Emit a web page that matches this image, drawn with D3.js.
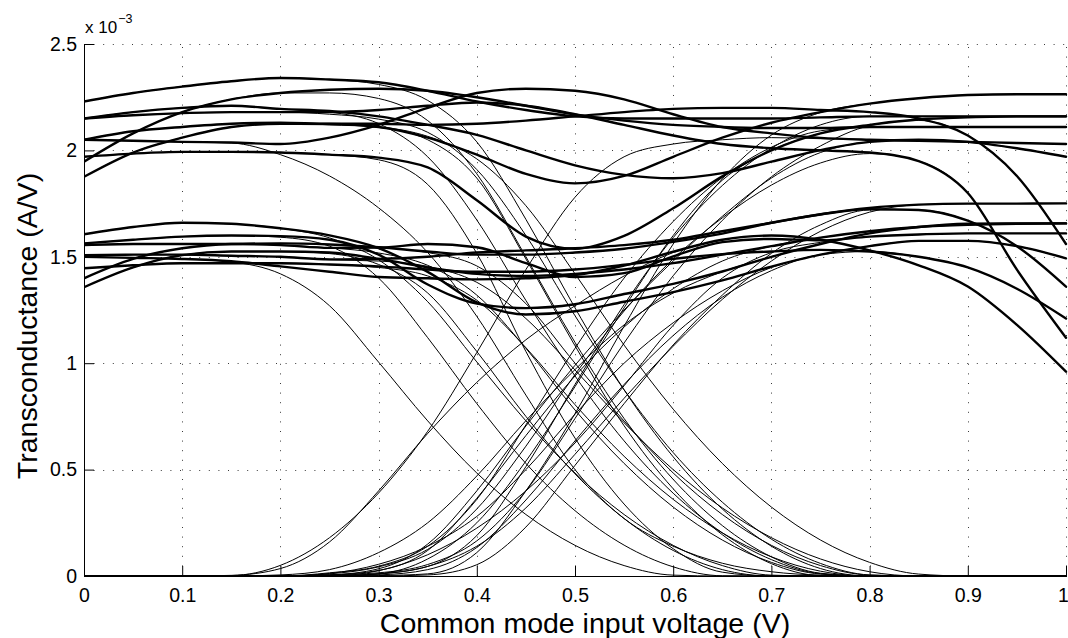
<!DOCTYPE html>
<html>
<head>
<meta charset="utf-8">
<script src="https://cdn.jsdelivr.net/npm/d3@7"></script>
<style>
  html, body { margin: 0; padding: 0; background: #ffffff; }
  svg { display: block; font-family: "Liberation Sans", Arial, Helvetica, sans-serif; }
</style>
</head>
<body>
<svg id="chart" width="1068" height="638"></svg>
<script>
// Common-mode input voltage sweep (V)
const vcm = [0, 0.05, 0.1, 0.15, 0.2, 0.25, 0.3, 0.35, 0.4, 0.45, 0.5,
             0.55, 0.6, 0.65, 0.7, 0.75, 0.8, 0.85, 0.9, 0.95, 1];

// Transconductance of the pair that turns off as Vcm rises (units of 1e-3 A/V), one row per run
const gmFalling = [
  [2.23, 2.27, 2.30, 2.325, 2.34, 2.333, 2.31, 2.235, 2.04, 1.676, 1.26, 0.875, 0.56, 0.315, 0.14, 0.035, 0, 0, 0, 0, 0],
  [1.947, 2.08, 2.18, 2.24, 2.27, 2.27, 2.244, 2.14, 1.89, 1.50, 1.098, 0.74, 0.454, 0.237, 0.09, 0.013, 0, 0, 0, 0, 0],
  [2.15, 2.18, 2.20, 2.21, 2.195, 2.18, 2.126, 1.97, 1.673, 1.295, 0.94, 0.635, 0.389, 0.203, 0.077, 0.011, 0, 0, 0, 0, 0],
  [2.15, 2.165, 2.175, 2.18, 2.18, 2.17, 2.147, 2.085, 1.91, 1.60, 1.223, 0.875, 0.58, 0.347, 0.173, 0.059, 0.005, 0, 0, 0, 0],
  [2.05, 2.09, 2.11, 2.125, 2.13, 2.12, 2.11, 2.066, 1.96, 1.74, 1.42, 1.085, 0.784, 0.529, 0.324, 0.169, 0.064, 0.009, 0, 0, 0],
  [2.05, 2.045, 2.04, 2.035, 1.98, 1.88, 1.73, 1.52, 1.22, 0.85, 0.50, 0.27, 0.14, 0.06, 0.02, 0.004, 0, 0, 0, 0, 0],
  [1.97, 1.985, 1.993, 1.993, 1.99, 1.98, 1.956, 1.84, 1.516, 1.055, 0.648, 0.338, 0.128, 0.018, 0, 0, 0, 0, 0, 0, 0],
  [1.876, 1.99, 2.06, 2.11, 2.125, 2.124, 2.108, 2.05, 1.87, 1.49, 1.082, 0.706, 0.41, 0.194, 0.058, 0.002, 0, 0, 0, 0, 0],
  [1.606, 1.64, 1.66, 1.655, 1.634, 1.589, 1.486, 1.289, 1.006, 0.729, 0.484, 0.289, 0.144, 0.049, 0.004, 0, 0, 0, 0, 0, 0],
  [1.563, 1.58, 1.595, 1.60, 1.592, 1.55, 1.40, 1.12, 0.81, 0.529, 0.307, 0.145, 0.043, 0.001, 0, 0, 0, 0, 0, 0, 0],
  [1.555, 1.56, 1.56, 1.56, 1.555, 1.542, 1.518, 1.46, 1.32, 1.07, 0.78, 0.529, 0.324, 0.169, 0.064, 0.009, 0, 0, 0, 0, 0],
  [1.508, 1.51, 1.51, 1.505, 1.50, 1.486, 1.48, 1.455, 1.38, 1.21, 0.968, 0.72, 0.5, 0.32, 0.18, 0.08, 0.02, 0, 0, 0, 0],
  [1.50, 1.495, 1.49, 1.476, 1.42, 1.27, 1.005, 0.729, 0.484, 0.289, 0.144, 0.049, 0.004, 0, 0, 0, 0, 0, 0, 0, 0],
  [1.446, 1.46, 1.47, 1.47, 1.47, 1.464, 1.45, 1.41, 1.296, 1.073, 0.805, 0.5625, 0.36, 0.2025, 0.09, 0.0225, 0, 0, 0, 0, 0],
  [1.399, 1.49, 1.54, 1.56, 1.563, 1.558, 1.545, 1.52, 1.457, 1.28, 1.0, 0.728, 0.484, 0.289, 0.144, 0.049, 0.004, 0, 0, 0, 0],
  [1.357, 1.45, 1.508, 1.525, 1.525, 1.515, 1.464, 1.33, 1.055, 0.75, 0.48, 0.27, 0.12, 0.03, 0, 0, 0, 0, 0, 0, 0]
];

// Transconductance of the complementary pair that turns on as Vcm rises (units of 1e-3 A/V)
const gmRising = [
  [0, 0, 0, 0, 0, 0, 0.01, 0.045, 0.19, 0.514, 0.90, 1.275, 1.59, 1.835, 2.01, 2.12, 2.16, 2.16, 2.16, 2.16, 2.16],
  [0, 0, 0, 0, 0, 0.015, 0.046, 0.14, 0.36, 0.71, 1.07, 1.40, 1.666, 1.873, 2.015, 2.092, 2.11, 2.11, 2.11, 2.11, 2.11],
  [0, 0, 0, 0, 0, 0.005, 0.034, 0.15, 0.40, 0.705, 0.99, 1.25, 1.48, 1.69, 1.87, 1.99, 2.04, 2.05, 2.04, 2.01, 1.97],
  [0, 0, 0, 0, 0, 0.01, 0.043, 0.125, 0.315, 0.61, 0.947, 1.245, 1.49, 1.683, 1.837, 1.941, 1.985, 1.95, 1.80, 1.44, 1.12],
  [0, 0, 0, 0, 0, 0.005, 0.015, 0.054, 0.165, 0.40, 0.74, 1.095, 1.411, 1.671, 1.876, 2.021, 2.116, 2.141, 2.07, 1.88, 1.56],
  [0, 0, 0, 0.002, 0.05, 0.18, 0.39, 0.68, 1.05, 1.44, 1.78, 1.97, 2.03, 2.05, 2.06, 2.055, 2.05, 2.045, 2.04, 2.035, 2.03],
  [0, 0, 0, 0, 0, 0, 0.01, 0.08, 0.25, 0.54, 0.89, 1.26, 1.60, 1.86, 2.00, 2.08, 2.12, 2.145, 2.155, 2.16, 2.16],
  [0, 0, 0, 0, 0, 0, 0.002, 0.01, 0.11, 0.40, 0.763, 1.174, 1.56, 1.866, 2.072, 2.178, 2.22, 2.245, 2.26, 2.264, 2.264],
  [0, 0, 0, 0, 0, 0.012, 0.055, 0.14, 0.28, 0.5, 0.76, 1.0, 1.19, 1.34, 1.45, 1.51, 1.55, 1.575, 1.575, 1.55, 1.493],
  [0, 0, 0, 0, 0.005, 0.03, 0.11, 0.25, 0.47, 0.73, 0.97, 1.18, 1.33, 1.43, 1.50, 1.56, 1.61, 1.64, 1.655, 1.657, 1.657],
  [0, 0, 0, 0, 0, 0, 0.025, 0.1, 0.225, 0.4, 0.625, 0.894, 1.178, 1.40, 1.52, 1.568, 1.595, 1.605, 1.61, 1.61, 1.61],
  [0, 0, 0, 0, 0, 0.002, 0.01, 0.045, 0.14, 0.32, 0.572, 0.835, 1.08, 1.30, 1.48, 1.62, 1.71, 1.745, 1.75, 1.75, 1.751],
  [0, 0, 0, 0.003, 0.035, 0.16, 0.4, 0.67, 0.91, 1.11, 1.27, 1.41, 1.52, 1.58, 1.60, 1.58, 1.53, 1.46, 1.36, 1.18, 0.96],
  [0, 0, 0, 0, 0, 0, 0.005, 0.03, 0.134, 0.357, 0.635, 0.90, 1.13, 1.31, 1.435, 1.51, 1.525, 1.50, 1.45, 1.35, 1.21],
  [0, 0, 0, 0, 0, 0, 0, 0.005, 0.053, 0.23, 0.52, 0.81, 1.086, 1.32, 1.516, 1.65, 1.72, 1.72, 1.67, 1.55, 1.36],
  [0, 0, 0, 0, 0, 0.005, 0.026, 0.12, 0.365, 0.66, 0.94, 1.17, 1.35, 1.48, 1.55, 1.59, 1.62, 1.64, 1.65, 1.655, 1.657]
];

// Axis ticks and their labels
const xTickValues = [0, 0.1, 0.2, 0.3, 0.4, 0.5, 0.6, 0.7, 0.8, 0.9, 1];
const xTickLabels = ["0", "0.1", "0.2", "0.3", "0.4", "0.5", "0.6", "0.7", "0.8", "0.9", "1"];
const yTickValues = [0, 0.5, 1, 1.5, 2, 2.5];
const yTickLabels = ["0", "0.5", "1", "1.5", "2", "2.5"];

const xTitle = "Common mode input voltage (V)";
const yTitle = "Transconductance (A/V)";

// Layout
const plot = { left: 84, right: 1066, top: 44, bottom: 576 };
const svg = d3.select("#chart");

const x = d3.scaleLinear().domain([0, 1]).range([plot.left, plot.right]);
const y = d3.scaleLinear().domain([0, 2.5]).range([plot.bottom, plot.top]);

// Dotted grid, including the top and right edges of the plot box
const grid = svg.append("g").attr("class", "grid")
  .attr("stroke", "#3a3a3a").attr("stroke-width", 1)
  .attr("stroke-dasharray", "1,8.6").attr("fill", "none");
xTickValues.filter(v => v > 0).forEach(v => {
  grid.append("line")
    .attr("x1", Math.round(x(v)) + 0.5).attr("x2", Math.round(x(v)) + 0.5)
    .attr("y1", plot.bottom).attr("y2", plot.top);
});
yTickValues.filter(v => v > 0).forEach(v => {
  grid.append("line")
    .attr("x1", plot.left).attr("x2", plot.right)
    .attr("y1", Math.round(y(v)) + 0.5).attr("y2", Math.round(y(v)) + 0.5);
});

// Curves
svg.append("clipPath").attr("id", "plot-clip")
  .append("rect").attr("x", plot.left).attr("y", plot.top - 2)
  .attr("width", plot.right - plot.left + 2).attr("height", plot.bottom - plot.top + 3);

const line = d3.line()
  .x((d, i) => x(vcm[i]))
  .y(d => y(d))
  .curve(d3.curveMonotoneX);

const curves = svg.append("g").attr("clip-path", "url(#plot-clip)").attr("fill", "none")
  .attr("stroke", "#000").attr("stroke-linejoin", "round").attr("stroke-linecap", "round");

// Individual input-pair transconductances (thin)
curves.selectAll("path.falling").data(gmFalling).join("path")
  .attr("class", "falling").attr("stroke-width", 1).attr("d", line);
curves.selectAll("path.rising").data(gmRising).join("path")
  .attr("class", "rising").attr("stroke-width", 1).attr("d", line);

// Total transconductance of each run (thick)
const gmTotal = gmFalling.map((row, r) => row.map((v, i) => v + gmRising[r][i]));
curves.selectAll("path.total").data(gmTotal).join("path")
  .attr("class", "total").attr("stroke-width", 2.4).attr("d", line);

// Axes: ticks point inward, only the left and bottom edges are solid
const xAxis = d3.axisBottom(x).tickValues(xTickValues)
  .tickFormat((d, i) => xTickLabels[i]).tickSizeInner(-10).tickSizeOuter(0).tickPadding(12);
const yAxis = d3.axisLeft(y).tickValues(yTickValues)
  .tickFormat((d, i) => yTickLabels[i]).tickSizeInner(-10).tickSizeOuter(0).tickPadding(7);

const gx = svg.append("g").attr("transform", `translate(0,${plot.bottom})`).call(xAxis);
const gy = svg.append("g").attr("transform", `translate(${plot.left},0)`).call(yAxis);

[gx, gy].forEach(g => {
  g.selectAll(".domain").attr("stroke", "#000").attr("stroke-width", 1);
  g.selectAll(".tick line").attr("stroke", "#000").attr("stroke-width", 1);
  g.selectAll(".tick text").attr("fill", "#000")
    .style("font-size", "19.5px")
    .style("font-family", "'Liberation Sans', Arial, Helvetica, sans-serif");
});
// Keep the last x label inside the page edge
gx.selectAll(".tick text").filter(d => d === 1).attr("dx", -3);

// Exponent note above the y axis
const expo = svg.append("text").attr("x", plot.left + 1).attr("y", 33)
  .attr("fill", "#000").style("font-size", "17px");
expo.append("tspan").text("x 10");
expo.append("tspan").attr("dx", 1).attr("dy", -10).style("font-size", "12.5px").text("\u22123");

// Axis titles
svg.append("text")
  .attr("x", 585).attr("y", 633)
  .attr("text-anchor", "middle").attr("fill", "#000")
  .style("font-size", "28.5px").text(xTitle);

svg.append("text")
  .attr("transform", "translate(37,326) rotate(-90)")
  .attr("text-anchor", "middle").attr("fill", "#000")
  .style("font-size", "28.5px").text(yTitle);
</script>
</body>
</html>
